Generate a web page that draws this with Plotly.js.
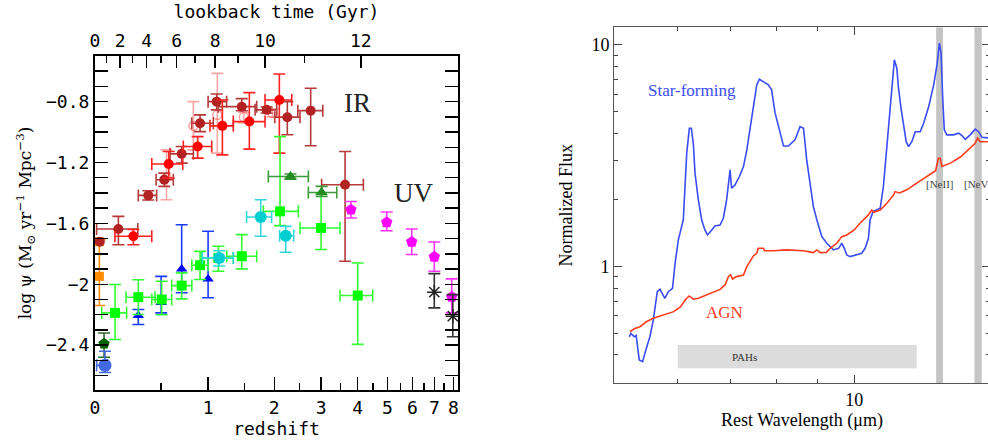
<!DOCTYPE html>
<html><head><meta charset="utf-8">
<script src="https://cdn.plot.ly/plotly-3.0.1.min.js"></script>
<style>html,body{margin:0;padding:0;overflow:hidden;background:#fff;width:988px;height:442px}#chart{width:994px;height:442px}</style>
</head><body><div id="chart"></div><script>
// ---------- LEFT PANEL DATA (redshift z, log SFR density) ----------
const drZ   = [0.03, 0.154, 0.386, 0.529, 0.701, 0.904, 1.108, 1.458, 1.864, 2.25, 2.75, 3.63];
const drZlo = [0.03, 0.01, 0.304, 0.454, 0.584, 0.809, 1.0, 1.13, 1.667, 2.01, 2.465, 3.01];
const drZhi = [0.03, 0.30, 0.459, 0.616, 0.827, 1.065, 1.24, 1.694, 2.045, 2.513, 3.04, 4.18];
const drY   = [-1.72, -1.637, -1.416, -1.313, -1.143, -0.942, -0.80, -0.833, -0.854, -0.902, -0.859, -1.346];
const drYlo = [-1.72, -1.74, -1.446, -1.357, -1.204, -0.997, -0.854, -0.86, -0.875, -1.018, -1.09, -1.849];
const drYhi = [-1.72, -1.554, -1.386, -1.27, -1.095, -0.887, -0.75, -0.78, -0.835, -0.80, -0.712, -1.128];

const rdZ   = [0.265, 0.571, 0.876, 1.183, 1.575, 2.095];
const rdZlo = [0.13, 0.416, 0.718, 1.023, 1.334, 1.835];
const rdZhi = [0.416, 0.712, 1.045, 1.334, 1.835, 2.339];
const rdY   = [-1.685, -1.21, -1.095, -0.959, -0.931, -0.789];
const rdYlo = [-1.74, -1.302, -1.171, -1.15, -1.112, -1.138];
const rdYhi = [-1.64, -1.128, -1.03, -0.789, -0.741, -0.618];

const fdZ   = [0.55, 0.827, 1.116, 1.49, 1.97];
const fdY   = [-1.30, -0.959, -0.887, -0.902, -0.876];
const fdYlo = [-1.445, -1.117, -1.138, -0.94, -0.90];
const fdYhi = [-1.117, -0.80, -0.614, -0.87, -0.85];

const lmZ   = [0.131, 0.304, 0.505, 0.701, 0.904, 1.13, 1.458, 2.108, 2.996, 4.003];
const lmZlo = [0.042, 0.209, 0.416, 0.60, 0.81, 0.923, 1.242, 1.805, 2.513, 3.488];
const lmZhi = [0.214, 0.445, 0.60, 0.81, 1.0, 1.334, 1.694, 2.477, 3.488, 4.485];
const lmY   = [-2.188, -2.085, -2.10, -2.009, -1.875, -1.827, -1.816, -1.521, -1.630, -2.074];
const lmYlo = [-2.363, -2.199, -2.20, -2.096, -1.969, -1.915, -1.899, -1.615, -1.772, -2.395];
const lmYhi = [-2.002, -1.97, -1.98, -1.925, -1.784, -1.75, -1.674, -1.03, -1.40, -1.86];

const fgZ   = [2.313, 3.01];
const fgZlo = [1.893, 2.697];
const fgZhi = [2.697, 3.40];
const fgY   = [-1.292, -1.397];
const fgYlo = [-1.31, -1.423];
const fgYhi = [-1.275, -1.357];

const blZ   = [0.304, 0.50, 0.701, 1.0];
const blY   = [-2.205, -2.12, -1.899, -1.965];
const blYlo = [-2.265, -2.188, -2.056, -2.089];
const blYhi = [-2.166, -1.948, -1.609, -1.652];

const cyZ   = [1.14, 1.761, 2.218];
const cyZlo = [0.93, 1.532, 2.10];
const cyZhi = [1.334, 1.952, 2.38];
const cyY   = [-1.827, -1.558, -1.681];
const cyYlo = [-1.88, -1.685, -1.79];
const cyYhi = [-1.78, -1.445, -1.62];

const mgZ   = [3.80, 4.976, 5.966, 7.0, 7.9];
const mgY   = [-1.510, -1.593, -1.722, -1.820, -2.083];
const mgYlo = [-1.565, -1.648, -1.805, -1.915, -2.188];
const mgYhi = [-1.456, -1.525, -1.637, -1.722, -1.965];

const bkZ   = [7.0, 7.96];
const bkY   = [-2.052, -2.21];
const bkYlo = [-2.155, -2.345];
const bkYhi = [-1.93, -2.068];

const orZ   = [0.027, 0.027];
const orY   = [-1.72, -1.948];
const orYlo = [-1.72, -2.14];
const orYhi = [-1.72, -1.707];

const dgZ = [0.057], dgY = [-2.391], dgYlo = [-2.48], dgYhi = [-2.32];
const rbZ = [0.063], rbZlo = [0.01], rbZhi = [0.08], rbY = [-2.533], rbYlo = [-2.58], rbYhi = [-2.44];

const zTicks = [0, 1, 2, 3, 4, 5, 6, 7, 8];
const zMinor = [0.5, 1.5, 2.5, 3.5, 4.5, 5.5, 6.5, 7.5, 8.5];
const yTicks = [-0.8, -1.2, -1.6, -2.0, -2.4];
const yTickText = ['\u22120.8', '\u22121.2', '\u22121.6', '\u22122', '\u22122.4'];
const lookbackGyr = [0, 1, 2, 3, 4, 5, 6, 7, 8, 9, 10, 11, 12];
const lookbackZ = [0, 0.074, 0.166, 0.257, 0.373, 0.499, 0.650, 0.845, 1.087, 1.405, 1.835, 2.606, 4.10];

// ---------- RIGHT PANEL DATA (rest wavelength, normalized flux) ----------
const sfLam = [5.225, 5.25, 5.30, 5.33, 5.378, 5.43, 5.48, 5.546, 5.601, 5.63,
  5.665, 5.71, 5.79, 5.85, 5.92, 5.964, 6.02, 6.107, 6.138, 6.168,
  6.215, 6.25, 6.286, 6.317, 6.378, 6.44, 6.50, 6.55, 6.63, 6.69,
  6.79, 6.855, 6.92, 6.955, 6.99, 7.02, 7.09, 7.18, 7.265, 7.336,
  7.405, 7.476, 7.549, 7.606, 7.695, 7.806, 7.88, 7.96, 8.04, 8.155,
  8.27, 8.43, 8.555, 8.64, 8.72, 8.81, 8.89, 8.98, 9.11, 9.24,
  9.42, 9.56, 9.65, 9.72, 9.79, 9.885, 10.08, 10.22, 10.32, 10.42,
  10.47, 10.56, 10.78, 10.88, 10.99, 11.1, 11.18, 11.23, 11.31, 11.36,
  11.44, 11.53, 11.62, 11.7, 11.81, 11.93, 12.1, 12.22, 12.4, 12.58,
  12.7, 12.79, 12.85, 12.91, 12.97, 13.07, 13.32, 13.52, 13.65, 13.78,
  13.98, 14.18, 14.32, 14.46, 14.8];
const sfFlux = [0.483, 0.50, 0.483, 0.49, 0.38, 0.373, 0.42, 0.483, 0.575, 0.672,
  0.771, 0.791, 0.72, 0.771, 0.799, 1.036, 1.32, 1.624, 2.22, 3.25,
  4.21, 4.21, 3.6, 2.64, 2.0, 1.624, 1.464, 1.39, 1.464, 1.526,
  1.54, 1.653, 2.0, 2.337, 2.73, 2.258, 2.337, 2.55, 2.826, 3.36,
  4.14, 5.09, 6.6, 7.0, 6.83, 6.6, 6.27, 4.92, 4.28, 3.5,
  3.5, 3.73, 4.28, 4.21, 3.03, 2.3, 1.865, 1.624, 1.366, 1.275,
  1.19, 1.21, 1.275, 1.21, 1.129, 1.11, 1.129, 1.149, 1.21, 1.343,
  1.624, 1.77, 1.834, 2.3, 3.48, 5.09, 7.2, 8.56, 7.85, 6.49,
  5.27, 4.28, 3.66, 3.48, 3.66, 4.06, 4.06, 4.43, 5.27, 6.6,
  8.12, 10.18, 9.17, 5.85, 4.14, 3.93, 3.93, 4.0, 3.9, 3.75,
  3.93, 4.17, 4.06, 3.83, 3.8];
const agnLam = [5.234, 5.31, 5.39, 5.49, 5.60, 5.77, 5.94, 6.06, 6.14, 6.21,
  6.29, 6.38, 6.53, 6.66, 6.79, 6.89, 6.955, 7.0, 7.04, 7.12,
  7.265, 7.336, 7.405, 7.476, 7.549, 7.58, 7.695, 7.72, 7.92, 8.23,
  8.64, 8.89, 8.98, 9.07, 9.23, 9.33, 9.51, 9.65, 9.79, 10.0,
  10.17, 10.42, 10.52, 10.58, 10.78, 10.99, 11.2, 11.25, 11.4, 11.64,
  11.98, 12.34, 12.65, 12.75, 12.82, 12.88, 13.2, 13.6, 13.98, 14.18,
  14.28, 14.39, 14.8];
const agnFlux = [0.509, 0.527, 0.536, 0.565, 0.585, 0.605, 0.627, 0.66, 0.708, 0.738,
  0.713, 0.72, 0.745, 0.771, 0.79, 0.827, 0.902, 0.92, 0.88, 0.902,
  0.917, 1.0, 1.064, 1.118, 1.149, 1.21, 1.21, 1.18, 1.18, 1.19,
  1.18, 1.157, 1.19, 1.157, 1.16, 1.21, 1.275, 1.366, 1.39, 1.464,
  1.569, 1.711, 1.8, 1.76, 1.8, 1.93, 2.1, 2.18, 2.15, 2.22,
  2.38, 2.55, 2.71, 3.08, 3.08, 2.83, 2.93, 3.13, 3.42, 3.6,
  3.8, 3.66, 3.66];
const neiiBand = [12.67, 12.92];
const nevBand = [14.15, 14.45];
const pahBand = [6.01, 11.98];
const pahFlux = [0.348, 0.443];
const lineLabels = ['[NeII]', '[NeV]'];
const lineLam = [12.8, 14.3];

// ---------- LAYOUT HELPERS ----------
const W = 994, H = 442;
const fx = px => px / W, fy = py => 1 - py / H;
const L = Math.log10;
const FLUX_MIN = 0.298, FLUX_MAX = 12.0;

function series(z, y, o) {
  const x = z.map(v => 1 + v);
  const t = {type: 'scatter', mode: 'markers', x: x, y: y, xaxis: 'x', yaxis: 'y',
    hoverinfo: 'skip', showlegend: false, marker: o.marker, cliponaxis: false};
  const nz = v => (Math.abs(v) < 1e-9 ? NaN : v);
  if (o.ylo) {
    t.error_y = {type: 'data', symmetric: false,
      array: o.yhi.map((v, i) => nz(v - y[i])), arrayminus: o.ylo.map((v, i) => nz(y[i] - v)),
      color: o.ec, thickness: 1.6, width: 6};
  }
  if (o.zlo) {
    t.error_x = {type: 'data', symmetric: false,
      array: o.zhi.map((v, i) => nz(v - z[i])), arrayminus: o.zlo.map((v, i) => nz(z[i] - v)),
      color: o.ec, thickness: 1.6, width: 6};
  }
  return t;
}
function band(x0, x1, y0, y1, color) {
  return {type: 'scatter', mode: 'lines', x: [x0, x1, x1, x0, x0], y: [y0, y0, y1, y1, y0],
    xaxis: 'x2', yaxis: 'y2', fill: 'toself', fillcolor: color, line: {width: 0, color: color},
    hoverinfo: 'skip', showlegend: false};
}

const traces = [
  // invisible carrier so the top lookback-time axis is drawn
  {type: 'scatter', mode: 'markers', x: [1 + lookbackZ[0]], y: [null], xaxis: 'x3', yaxis: 'y',
    marker: {opacity: 0}, hoverinfo: 'skip', showlegend: false},
  series(fdZ, fdY, {ylo: fdYlo, yhi: fdYhi, ec: 'rgba(255,60,60,0.45)',
    marker: {symbol: 'circle-open', size: 9, color: 'rgba(255,60,60,0.55)', line: {width: 1.3}}}),
  series(orZ, orY, {ylo: orYlo, yhi: orYhi, ec: '#ff8c00',
    marker: {symbol: 'square', size: 9, color: '#ff8c00'}}),
  series(drZ, drY, {ylo: drYlo, yhi: drYhi, zlo: drZlo, zhi: drZhi, ec: '#b53a3a',
    marker: {symbol: 'circle', size: 10, color: '#b22222'}}),
  series(rdZ, rdY, {ylo: rdYlo, yhi: rdYhi, zlo: rdZlo, zhi: rdZhi, ec: '#ff2020',
    marker: {symbol: 'circle', size: 10, color: '#ff0000'}}),
  series(blZ, blY, {ylo: blYlo, yhi: blYhi, ec: '#1a3cff',
    marker: {symbol: 'triangle-up', size: 10, color: '#0000ff'}}),
  series(lmZ, lmY, {ylo: lmYlo, yhi: lmYhi, zlo: lmZlo, zhi: lmZhi, ec: '#33ff33',
    marker: {symbol: 'square', size: 10, color: '#00ff00'}}),
  series(fgZ, fgY, {ylo: fgYlo, yhi: fgYhi, zlo: fgZlo, zhi: fgZhi, ec: '#3c9a3c',
    marker: {symbol: 'triangle-up', size: 11, color: '#228b22'}}),
  series(cyZ, cyY, {ylo: cyYlo, yhi: cyYhi, zlo: cyZlo, zhi: cyZhi, ec: '#30d8dc',
    marker: {symbol: 'circle', size: 12, color: '#00ced1'}}),
  series(mgZ, mgY, {ylo: mgYlo, yhi: mgYhi, ec: '#ff33ff',
    marker: {symbol: 'pentagon', size: 12, color: '#ff00ff'}}),
  series(bkZ, bkY, {ylo: bkYlo, yhi: bkYhi, ec: '#333333',
    marker: {symbol: 'asterisk-open', size: 12, color: '#222222', line: {width: 1.5, color: '#222222'}}}),
  series(dgZ, dgY, {ylo: dgYlo, yhi: dgYhi, ec: '#2e6b2e',
    marker: {symbol: 'pentagon', size: 12, color: '#006400'}}),
  series(rbZ, rbY, {ylo: rbYlo, yhi: rbYhi, zlo: rbZlo, zhi: rbZhi, ec: '#4169e1',
    marker: {symbol: 'circle', size: 13, color: '#4169e1'}}),
  // right panel bands
  band(pahBand[0], pahBand[1], pahFlux[0], pahFlux[1], '#dcdcdc'),
  band(neiiBand[0], neiiBand[1], FLUX_MIN, FLUX_MAX, '#c4c4c4'),
  band(nevBand[0], nevBand[1], FLUX_MIN, FLUX_MAX, '#c4c4c4'),
  // right panel spectra
  {type: 'scatter', mode: 'lines', x: sfLam, y: sfFlux, xaxis: 'x2', yaxis: 'y2',
    line: {color: '#3a4cf5', width: 1.6}, hoverinfo: 'skip', showlegend: false},
  {type: 'scatter', mode: 'lines', x: agnLam, y: agnFlux, xaxis: 'x2', yaxis: 'y2',
    line: {color: '#ff3a1a', width: 1.6}, hoverinfo: 'skip', showlegend: false}
];

const mono = 'DejaVu Sans Mono, monospace';
const serif = 'Liberation Serif, Times New Roman, serif';

const lbMajor = lookbackGyr.filter(v => v % 2 === 0);
const lbMinor = lookbackGyr.filter(v => v % 2 === 1);

const layout = {
  width: W, height: H, margin: {l: 0, r: 0, t: 0, b: 0},
  paper_bgcolor: '#fff', plot_bgcolor: 'rgba(0,0,0,0)', showlegend: false,
  xaxis: {type: 'log', domain: [fx(95), fx(458)], range: [0, L(9.25)], anchor: 'y',
    tickmode: 'array', tickvals: zTicks.map(v => 1 + v), ticktext: zTicks.map(String),
    ticks: 'inside', ticklen: 13, tickwidth: 1.5, tickcolor: '#000',
    minor: {tickmode: 'array', tickvals: zMinor.map(v => 1 + v), ticks: 'inside', ticklen: 7, tickwidth: 1.5, tickcolor: '#000'},
    showline: true, linecolor: '#000', linewidth: 2, mirror: false, showgrid: false, zeroline: false,
    tickfont: {family: mono, size: 18, color: '#000'},
    title: {text: 'redshift', font: {family: mono, size: 18, color: '#000'}, standoff: 4}},
  xaxis3: {type: 'log', overlaying: 'x', side: 'top', anchor: 'y', range: [0, L(9.25)],
    tickmode: 'array', tickvals: lbMajor.map(g => 1 + lookbackZ[g]), ticktext: lbMajor.map(String),
    ticks: 'inside', ticklen: 12, tickwidth: 1.5, tickcolor: '#000',
    minor: {tickmode: 'array', tickvals: lbMinor.map(g => 1 + lookbackZ[g]), ticks: 'inside', ticklen: 7, tickwidth: 1.5, tickcolor: '#000'},
    showline: true, linecolor: '#000', linewidth: 2, showgrid: false, zeroline: false,
    tickfont: {family: mono, size: 18, color: '#000'},
    title: {text: 'lookback time (Gyr)', font: {family: mono, size: 18, color: '#000'}, standoff: 6}},
  yaxis: {domain: [fy(390), fy(56)], range: [-2.695, -0.5], anchor: 'x',
    tickmode: 'array', tickvals: yTicks, ticktext: yTickText,
    ticks: 'inside', ticklen: 13, tickwidth: 1.5, tickcolor: '#000',
    minor: {tickmode: 'linear', tick0: -0.5, dtick: 0.1, ticks: 'inside', ticklen: 7, tickwidth: 1.5, tickcolor: '#000'},
    showline: true, linecolor: '#000', linewidth: 2, mirror: 'allticks', showgrid: false, zeroline: false,
    tickfont: {family: mono, size: 18, color: '#000'},
    title: {text: 'log \u03c8 (M<sub>\u2299</sub> yr<sup>\u22121</sup> Mpc<sup>\u22123</sup>)', font: {family: 'DejaVu Serif, serif', size: 17, color: '#000'}, standoff: 10}},
  xaxis2: {type: 'log', domain: [fx(614), fx(990)], range: [L(5), L(14.8)], anchor: 'y2',
    tickmode: 'array', tickvals: [10], ticktext: ['10'],
    ticks: 'inside', ticklen: 8, tickwidth: 1, tickcolor: '#444',
    minor: {tickmode: 'array', tickvals: [6, 7, 8, 9], ticks: 'inside', ticklen: 4, tickwidth: 1, tickcolor: '#444'},
    showline: true, linecolor: '#555', linewidth: 1, mirror: 'allticks', showgrid: false, zeroline: false,
    tickfont: {family: serif, size: 18, color: '#000'},
    title: {text: 'Rest Wavelength (\u03bcm)', font: {family: serif, size: 18, color: '#000'}, standoff: 2}},
  yaxis2: {type: 'log', domain: [fy(383.3), fy(27.3)], range: [L(FLUX_MIN), L(FLUX_MAX)], anchor: 'x2',
    tickmode: 'array', tickvals: [1, 10], ticktext: ['1', '10'],
    ticks: 'inside', ticklen: 8, tickwidth: 1, tickcolor: '#444',
    minor: {tickmode: 'array', tickvals: [0.3, 0.4, 0.5, 0.6, 0.7, 0.8, 0.9, 2, 3, 4, 5, 6, 7, 8, 9], ticks: 'inside', ticklen: 4, tickwidth: 1, tickcolor: '#444'},
    showline: true, linecolor: '#555', linewidth: 1, mirror: 'allticks', showgrid: false, zeroline: false,
    tickfont: {family: serif, size: 18, color: '#000'},
    title: {text: 'Normalized Flux', font: {family: serif, size: 18, color: '#000'}, standoff: 14}},
  annotations: [
    {xref: 'x', yref: 'y', x: 0.6974, y: -0.8085, text: 'IR', showarrow: false,
      font: {family: serif, size: 27, color: '#222'}},
    {xref: 'x', yref: 'y', x: 0.8464, y: -1.399, text: 'UV', showarrow: false,
      font: {family: serif, size: 27, color: '#222'}},
    {xref: 'x2', yref: 'y2', x: 0.7964, y: 0.794, text: 'Star-forming', showarrow: false,
      font: {family: serif, size: 17, color: '#3a4cf5'}},
    {xref: 'x2', yref: 'y2', x: 0.8369, y: -0.2057, text: 'AGN', showarrow: false,
      font: {family: serif, size: 17, color: '#ff3a1a'}},
    {xref: 'x2', yref: 'y2', x: L(7.28), y: -0.409, text: 'PAHs', showarrow: false,
      font: {family: serif, size: 11, color: '#333'}},
    {xref: 'x2', yref: 'y2', x: L(lineLam[0]), y: 0.3717, text: lineLabels[0], showarrow: false,
      font: {family: serif, size: 11, color: '#444'}},
    {xref: 'x2', yref: 'y2', x: L(lineLam[1]), y: 0.3717, text: lineLabels[1], showarrow: false,
      font: {family: serif, size: 11, color: '#444'}}
  ]
};

Plotly.newPlot('chart', traces, layout, {staticPlot: true, displayModeBar: false});
</script></body></html>
